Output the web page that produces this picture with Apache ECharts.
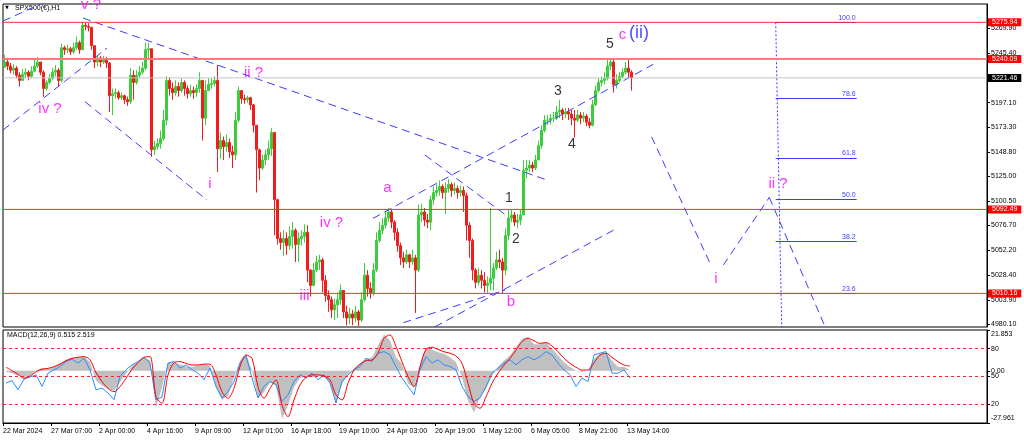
<!DOCTYPE html>
<html><head><meta charset="utf-8">
<script src="https://cdn.jsdelivr.net/npm/echarts@6/dist/echarts.min.js"></script>
<style>html,body{margin:0;padding:0;background:#fff}#c{width:1024px;height:441px}</style>
</head><body><div id="c"></div>
<script>
// ---------- data ----------
const timeLabels = ['22 Mar 2024','27 Mar 07:00','2 Apr 00:00','4 Apr 16:00','9 Apr 09:00','12 Apr 01:00','16 Apr 18:00','19 Apr 10:00','24 Apr 03:00','26 Apr 19:00','1 May 12:00','6 May 05:00','8 May 21:00','13 May 14:00'];
const barsPerLabel = 16;      // 4-hour candles between time labels
const totalSlots = 328;       // chart width in 4-hour slots (incl. empty future space)

const firstOpen = 5232;
const closes = [5237,5233,5229,5231,5224,5219,5225,5227,5223,5228,
5233,5237,5227,5211,5217,5221,5227,5229,5219,5251,
5249,5250,5247,5251,5256,5249,5273,5272,5271,5253,
5237,5241,5237,5239,5236,5204,5206,5207,5202,5204,
5200,5198,5224,5217,5224,5227,5231,5249,5250,5151,
5154,5157,5162,5180,5219,5211,5207,5213,5209,5217,
5211,5206,5209,5207,5211,5219,5182,5209,5215,5216,
5219,5152,5160,5154,5158,5149,5146,5180,5209,5201,
5200,5202,5195,5175,5151,5133,5141,5146,5152,5168,
5102,5064,5060,5064,5057,5066,5072,5058,5064,5066,
5070,5033,5018,5033,5041,5043,5023,5008,5004,4994,
4999,5004,5013,4992,4986,4990,4986,4992,4984,5004,
5028,5015,5011,5033,5062,5072,5077,5084,5090,5080,
5070,5057,5045,5041,5048,5041,5045,5033,5087,5090,
5082,5080,5102,5109,5111,5115,5109,5113,5117,5111,
5113,5109,5111,5106,5077,5062,5033,5021,5028,5023,
5018,5020,5025,5035,5043,5041,5033,5067,5084,5087,
5080,5082,5087,5131,5133,5136,5133,5141,5155,5170,
5180,5180,5182,5182,5188,5190,5186,5188,5186,5182,
5180,5185,5182,5184,5178,5175,5195,5209,5217,5219,
5221,5233,5237,5215,5219,5223,5227,5231,5227,5221.46];
const highs = [5244,5241,5236,5235,5233,5227,5230,5231,5229,5233,
5239,5242,5237,5229,5219,5225,5231,5234,5231,5255,
5253,5254,5252,5256,5262,5258,5276,5276,5275,5270,
5249,5244,5243,5243,5242,5237,5211,5211,5209,5207,
5205,5203,5231,5229,5229,5233,5237,5256,5256,5249,
5160,5162,5170,5190,5223,5222,5217,5219,5217,5221,
5219,5214,5215,5213,5215,5227,5219,5219,5221,5221,
5223,5234,5168,5164,5166,5162,5155,5188,5213,5207,
5205,5204,5203,5196,5175,5152,5146,5151,5160,5172,
5166,5103,5070,5072,5070,5076,5080,5074,5070,5072,
5078,5077,5034,5040,5047,5048,5045,5028,5013,5007,
5005,5011,5019,5013,4998,4996,4994,4998,4994,5011,
5040,5033,5021,5040,5070,5080,5084,5090,5094,5092,
5082,5074,5060,5051,5053,5049,5053,5048,5097,5098,
5094,5088,5106,5115,5117,5121,5117,5119,5122,5119,
5119,5116,5116,5115,5109,5080,5064,5035,5035,5033,
5031,5027,5094,5040,5051,5053,5045,5074,5092,5092,
5090,5088,5092,5141,5141,5141,5139,5146,5160,5175,
5185,5185,5186,5188,5194,5200,5192,5192,5192,5190,
5190,5190,5188,5188,5186,5182,5200,5214,5221,5223,
5227,5239,5240,5239,5225,5227,5231,5237,5241,5229];
const lows = [5231,5229,5226,5225,5221,5213,5219,5221,5219,5221,
5227,5231,5224,5203,5209,5215,5219,5223,5213,5217,
5244,5246,5244,5245,5249,5245,5249,5268,5267,5249,
5231,5233,5232,5235,5231,5188,5185,5201,5200,5200,
5196,5194,5196,5200,5215,5221,5225,5229,5239,5144,
5146,5151,5152,5160,5175,5204,5200,5204,5203,5207,
5204,5201,5203,5201,5203,5207,5160,5175,5209,5211,
5213,5129,5142,5141,5149,5143,5133,5141,5178,5196,
5196,5197,5190,5168,5109,5121,5131,5136,5141,5145,
5067,5058,5053,5047,5048,5053,5054,5041,5041,5057,
5060,5021,5007,5017,5031,5033,5011,5002,4992,4986,
4984,4986,4999,4986,4979,4980,4979,4982,4978,4982,
5002,5007,5005,5008,5031,5060,5068,5074,5080,5074,
5062,5051,5038,5035,5039,5035,5038,4991,5031,5080,
5076,5074,5072,5097,5105,5106,5103,5088,5109,5105,
5107,5103,5105,5090,5062,5045,5023,5015,5018,5015,
5011,5010,5013,5013,5033,5035,5010,5028,5062,5080,
5076,5074,5077,5102,5123,5129,5129,5131,5141,5152,
5168,5175,5176,5178,5180,5182,5180,5182,5180,5175,
5163,5178,5176,5178,5174,5172,5174,5194,5207,5213,
5215,5219,5229,5207,5211,5217,5221,5225,5221,5209];

const priceTicks = [4980.10,5003.90,5028.40,5052.20,5076.70,5100.50,5125.00,5148.80,5173.30,5197.10,5221.60,5245.40,5269.90];
const priceMin = 4977.2, priceMax = 5293.9;
const redLevels = [5275.94, 5240.09, 5092.49, 5010.16];
const lastPrice = 5221.46;

// MACD pane, one value per 8 hours
const macdMain = [-0.5,-1.3,-2.5,-3.7,-2.5,0.2,1.6,1.1,2.0,3.8,
5.9,7.0,7.0,7.7,4.6,-5.2,-7.9,-9.7,-10.6,-6.1,
-1.7,2.8,4.6,7.3,5.5,-19.8,-8.8,4.6,4.6,3.4,
2.3,2.0,2.8,3.4,2.8,-8.8,-15.6,-13.3,-3.5,5.5,
9.1,0.2,-15.0,-11.4,-6.1,-7.9,-25.7,-18.6,-8.8,-3.8,
-2.5,-3.5,-2.5,-3.5,-6.1,-17.7,-7.0,-1.7,1.1,3.8,
6.4,7.3,13.6,19.4,16.2,7.3,3.8,-7.0,-8.8,3.8,
12.4,11.3,10.0,9.1,7.3,4.6,-3.5,-16.0,-22.3,-14.2,
-9.7,-2.5,2.0,5.5,8.2,12.7,17.2,18.1,14.2,14.2,
15.4,11.8,8.2,4.6,2.0,0.2,-0.7,0.2,6.4,9.1,
9.5,5.5,2.0,2.0,0.515];
const macdSignal = [1.9,0.1,-1.9,-4.0,-2.8,-0.5,0.8,1.3,2.2,3.6,
5.4,6.7,7.2,7.6,5.8,-1.0,-5.8,-9.4,-11.2,-8.5,
-4.0,0.8,4.3,7.2,7.6,-13.9,-17.4,-2.2,4.3,4.9,
4.0,3.1,3.1,3.6,3.5,-2.2,-11.2,-14.7,-9.4,2.2,
8.4,6.7,-8.5,-14.7,-9.4,-4.9,-18.3,-24.6,-15.6,-7.6,
-3.5,-2.2,-2.2,-2.8,-4.9,-12.9,-15.6,-6.7,0.4,3.6,
5.4,5.8,9.4,17.4,19.2,12.9,4.9,-3.0,-8.5,2.2,
11.5,12.6,11.5,10.2,9.4,7.9,4.0,-6.7,-17.4,-20.1,
-13.9,-6.7,-1.3,3.1,6.7,11.1,15.6,17.4,16.1,14.7,
15.1,13.3,10.2,6.7,4.0,1.9,0.4,0.4,4.3,8.4,
9.4,7.2,4.9,3.1,2.519];
const oscLine = [42.9,45.7,35.7,47.2,49.4,51.8,39.3,53.6,57.2,60.7,
66.1,68.6,64.4,69.7,57.2,35.7,37.6,32.2,25.0,50.0,
57.2,62.5,66.1,70.8,64.4,25.0,27.9,64.4,66.1,59.0,
62.5,57.2,53.6,46.5,59.0,39.3,26.9,33.9,44.6,64.4,
72.2,48.3,26.9,39.3,44.6,41.1,23.2,30.4,44.6,51.8,
48.3,53.6,46.5,51.8,42.9,21.5,44.6,51.8,57.2,60.7,
69.7,66.1,75.1,76.8,73.2,60.7,48.3,39.3,30.4,57.2,
71.4,64.4,68.0,62.5,60.7,57.2,39.3,28.6,23.2,26.9,
39.3,53.6,59.0,64.4,68.0,62.5,68.0,71.4,68.0,71.4,
76.8,73.2,64.4,57.2,51.8,39.3,48.3,44.6,73.2,75.1,
76.8,53.6,53.6,57.2,48.3];
const macdMin = -27.961, macdMax = 21.853;
const macdTicks = [21.853, 0, -27.961];
const macdTickLabels = ['21.853','0.00','-27.961'];
const oscLevels = [80, 50, 20];

// trend lines: [[slot, price],[slot, price]]
const trendLines = [
 [[0,5277.2],[13.33,5294.9]],
 [[0,5170.3],[34.67,5250.7]],
 [[26.67,5280.1],[181.33,5121.3]],
 [[27.33,5198.1],[68,5101.7]],
 [[140.67,5145.8],[168.33,5085.3]],
 [[123.33,5083.7],[218.33,5237.3]],
 [[133.44,4981.4],[167.33,5013.4]],
 [[144,4977.4],[204,5072.9]],
 [[216.2,5163.7],[236.2,5036.3]],
 [[240.1,5037.9],[255.43,5104.3]],
 [[255.43,5104.3],[276.67,4959.5]]
];
// Fibonacci retracement
const fibHigh = 5275.94, fibLow = 4928;
const fibLevels = [100, 78.6, 61.8, 50, 38.2, 23.6];
const fibStartSlot = 257.57, fibLowSlot = 259.9, fibEndSlot = 284.57;

// wave labels: [text, slot, price]
const magentaLabels = [['v ?',29.33,5292.9],['iv ?',15.67,5190.9],['ii ?',83.5,5226.7],['i',69,5117.4],['iii',100.5,5007.5],['iv ?',109.5,5079.1],['a',128.17,5113.4],['b',169.33,5001.7],['c',206.5,5263.5],['i',237.67,5024.2],['ii ?',258.33,5117.4]];
const blackLabels = [['1',168.67,5103.6],['2',171,5063.4],['3',185,5208.6],['4',189.67,5156.6],['5',202.33,5254.7]];
const blueLabels = [['(ii)',212,5265.4]];

// ---------- build ----------
const FONT = 'Liberation Sans, Arial, DejaVu Sans, sans-serif';
const candles = closes.map((c,i)=>{
  const o = i===0 ? firstOpen : closes[i-1];
  return [o, c, Math.min(lows[i],o,c), Math.max(highs[i],o,c)];
});
const candleCats = Array.from({length: totalSlots}, (_,i)=>'s'+i);
const timeCats = Array.from({length: totalSlots+1}, (_,i)=> (i%barsPerLabel===0 && timeLabels[i/barsPerLabel]) ? timeLabels[i/barsPerLabel] : '');
const showTime = (i)=> i%barsPerLabel===0 && i/barsPerLabel < timeLabels.length;
const toSlots = arr => arr.map((v,k)=>[1+2*k, v]);

const levelSeries = (v, color, width, tagBg) => ({
  type:'line', xAxisIndex:2, yAxisIndex:0, data:[[0,v],[totalSlots,v]], symbol:'none', silent:true, z:5,
  itemStyle:{color}, lineStyle:{color, width, type:'solid'},
  endLabel:{show:true, distance:1, formatter: v.toFixed(2), backgroundColor:tagBg, color:'#fff', fontSize:7, fontFamily:FONT, padding:[1,4,0,4], lineHeight:7}
});

const labelSeries = (arr, color, size) => ({
  type:'scatter', xAxisIndex:2, yAxisIndex:0, clip:false, silent:true,
  symbolSize:1, itemStyle:{color:'rgba(0,0,0,0)'},
  data: arr.map(a=>[a[1], a[2], a[0]]),
  label:{show:true, position:'inside', formatter:p=>p.data[2], color, fontSize:size, fontFamily:FONT},
  z:10
});

const series = [
  {type:'candlestick', xAxisIndex:0, yAxisIndex:0, data:candles, barWidth:2,
   itemStyle:{color:'#3dcc3d', color0:'#f21c1c', borderColor:'#3dcc3d', borderColor0:'#f21c1c', borderWidth:1}, z:3},
  levelSeries(lastPrice, '#c4c4c4', 1, '#000'),
  ...redLevels.map((v,idx)=> levelSeries(v, idx===1 ? '#ff7a7a' : '#ff2b2b', idx===1 ? 2 : 1, '#ff0000')),
  ...trendLines.map(seg=>({type:'line', xAxisIndex:2, yAxisIndex:0, data:seg, symbol:'none', silent:true,
     lineStyle:{color:'#3c3cff', width:1, type:[8,5]}, z:4})),
  {type:'line', xAxisIndex:2, yAxisIndex:0, symbol:'none', silent:true,
   data:[[fibStartSlot, fibHigh],[fibLowSlot, fibLow]],
   itemStyle:{color:'#3c3cff'}, lineStyle:{color:'#3c3cff', width:1, type:[2,2]}, z:4,
   markLine:{symbol:'none', silent:true, animation:false,
     lineStyle:{color:'#3c3cff', width:1, type:'solid'},
     label:{show:true, position:'insideEndTop', formatter:'{b}', color:'#3c3cff', fontSize:7, fontFamily:FONT, distance:1},
     data: fibLevels.map(l=>{const p = fibLow + (fibHigh-fibLow)*l/100; return [{coord:[fibStartSlot,p], name:l.toFixed(1)},{coord:[fibEndSlot,p]}];})
   }},
  labelSeries(magentaLabels, '#ff00ff', 15),
  labelSeries(blackLabels, '#000000', 14),
  labelSeries(blueLabels, '#1a1aff', 18),
  // MACD pane
  {type:'line', xAxisIndex:3, yAxisIndex:1, data:toSlots(macdMain), symbol:'none', silent:true,
   lineStyle:{width:0, opacity:0}, areaStyle:{color:'#c0c0c0', opacity:1, origin:0}, z:2},
  {type:'line', xAxisIndex:3, yAxisIndex:2, data:toSlots(oscLine), symbol:'none', silent:true,
   itemStyle:{color:'#2b8cff'}, lineStyle:{color:'#2b8cff', width:1}, z:3,
   markLine:{symbol:'none', silent:true, animation:false, label:{show:false},
     lineStyle:{color:'#ff2020', width:1, type:[3,3]}, data: oscLevels.map(v=>({yAxis:v}))}},
  {type:'line', xAxisIndex:3, yAxisIndex:1, data:toSlots(macdSignal), symbol:'none', silent:true, smooth:0.3,
   itemStyle:{color:'#ff0000'}, lineStyle:{color:'#ff0000', width:1}, z:4}
];

const axisTxt = {fontSize:7, color:'#000', fontFamily:FONT};
const option = {
  animation:false,
  backgroundColor:'#ffffff',
  grid:[
    {left:3, top:4, width:984, height:323, show:true, borderColor:'#000', borderWidth:1, backgroundColor:'#fff'},
    {left:3, top:330, width:984, height:93, show:true, borderColor:'#000', borderWidth:1, backgroundColor:'#fff'}
  ],
  xAxis:[
    {type:'category', gridIndex:0, data:candleCats, boundaryGap:true, axisLine:{show:false, onZero:false}, axisTick:{show:false}, axisLabel:{show:false}, splitLine:{show:false}},
    {type:'category', gridIndex:1, data:timeCats, boundaryGap:false,
     axisLine:{show:true, onZero:false, lineStyle:{color:'#000'}},
     axisTick:{show:true, interval:showTime, length:3, lineStyle:{color:'#000'}},
     axisLabel:Object.assign({interval:showTime, align:'left', margin:5}, axisTxt), splitLine:{show:false}},
    {type:'value', gridIndex:0, min:0, max:totalSlots, show:false, axisLine:{onZero:false}},
    {type:'value', gridIndex:1, min:0, max:totalSlots, show:false, axisLine:{onZero:false}}
  ],
  yAxis:[
    {type:'value', gridIndex:0, position:'right', min:priceMin, max:priceMax,
     axisLine:{show:true, onZero:false, lineStyle:{color:'#000'}},
     axisTick:{show:true, customValues:priceTicks, length:3, lineStyle:{color:'#000'}},
     axisLabel:Object.assign({customValues:priceTicks, formatter:v=>v.toFixed(2), margin:4}, axisTxt),
     splitLine:{show:false}},
    {type:'value', gridIndex:1, position:'right', min:macdMin, max:macdMax,
     axisLine:{show:true, onZero:false, lineStyle:{color:'#000'}},
     axisTick:{show:true, customValues:macdTicks, length:3, lineStyle:{color:'#000'}},
     axisLabel:Object.assign({customValues:macdTicks, margin:4,
       formatter:v=>{const i = macdTicks.findIndex(t=>Math.abs(t-v)<1e-6); if(i<0) return '';
         const style = i===0 ? 'top' : (i===macdTicks.length-1 ? 'bot' : 'mid'); return '{'+style+'|'+macdTickLabels[i]+'}';},
       rich:{top:{fontSize:7, fontFamily:FONT, color:'#000', padding:[9,0,0,0]}, bot:{fontSize:7, fontFamily:FONT, color:'#000', padding:[0,0,9,0]}, mid:{fontSize:7, fontFamily:FONT, color:'#000'}}}, axisTxt),
     splitLine:{show:false}},
    {type:'value', gridIndex:1, position:'right', min:0, max:100,
     axisLine:{show:false, onZero:false},
     axisTick:{show:true, customValues:oscLevels, length:3, lineStyle:{color:'#000'}},
     axisLabel:Object.assign({customValues:oscLevels, margin:4}, axisTxt),
     splitLine:{show:false}}
  ],
  graphic:[
    {type:'text', left:5, top:5, silent:true, style:{text:'▼', fontSize:5, fill:'#000', fontFamily:'DejaVu Sans'}},
    {type:'text', left:15, top:5, silent:true, style:{text:'SPX500(€),H1', fontSize:7, fill:'#000', fontFamily:FONT}},
    {type:'text', left:7, top:332, silent:true, style:{text:'MACD(12,26,9) ' + macdMain[macdMain.length-1] + ' ' + macdSignal[macdSignal.length-1], fontSize:7, fill:'#000', fontFamily:FONT}}
  ],
  series
};
const chart = echarts.init(document.getElementById('c'), null, {renderer:'canvas'});
chart.setOption(option);
</script>
</body></html>
